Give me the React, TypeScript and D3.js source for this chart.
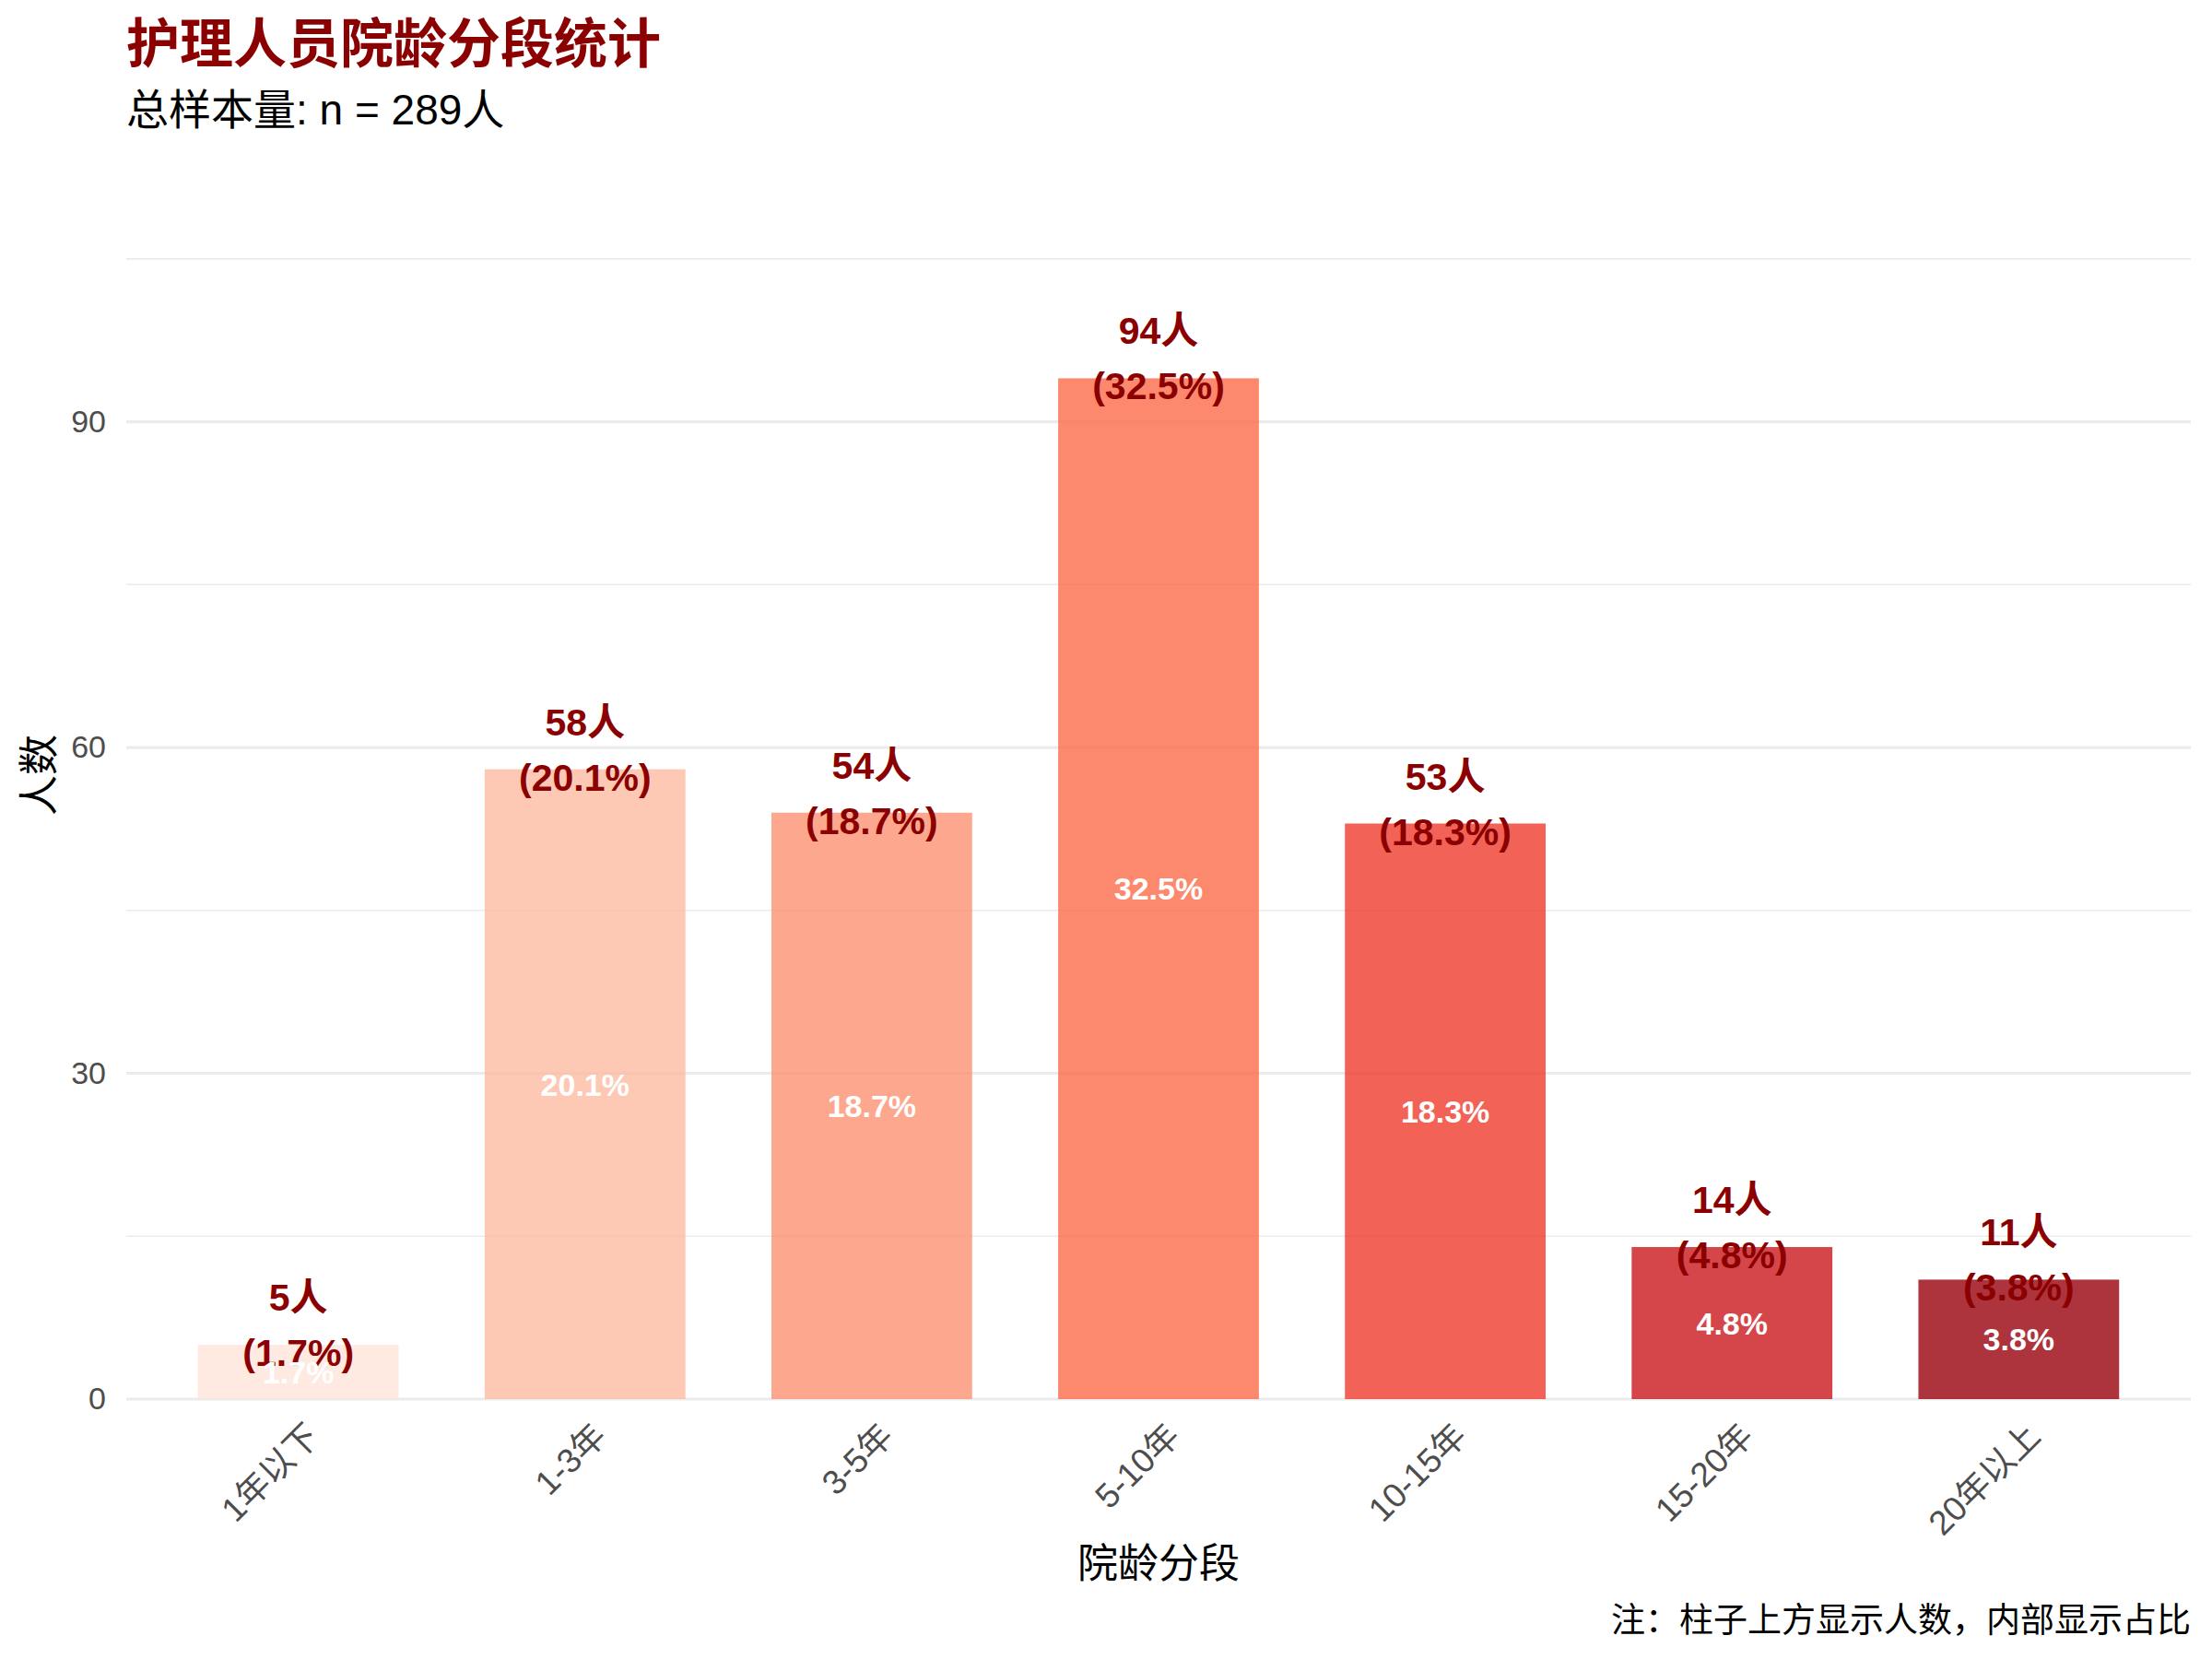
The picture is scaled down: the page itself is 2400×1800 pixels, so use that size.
import React, { useEffect, useRef } from 'react';
import * as d3 from 'd3';

// data
const categories = ['1年以下', '1-3年', '3-5年', '5-10年', '10-15年', '15-20年', '20年以上'];
const counts = [5, 58, 54, 94, 53, 14, 11];
const percents = [1.7, 20.1, 18.7, 32.5, 18.3, 4.8, 3.8];
const barColors = ['#FEE5D9', '#FCBBA1', '#FC9272', '#FB6A4A', '#EF3B2C', '#CB181D', '#99000D'];
const majorTicks = [0, 30, 60, 90];
const minorTicks = [15, 45, 75, 105];
const totalN = 289;

const W = 2400;
const H = 1800;
const margin = { top: 163, right: 23, bottom: 282, left: 137 };
const innerW = W - margin.left - margin.right;
const innerH = H - margin.top - margin.bottom;

const FONT = '"Liberation Sans", Arial, "Noto Sans CJK SC", sans-serif';
const DARK_RED = '#8B0000';

export default function App() {
    const ref = useRef<SVGSVGElement>(null);

    useEffect(() => {
        const svg = d3.select(ref.current);
        svg.selectAll('*').remove();

        const x = d3.scaleBand<string>()
            .domain(categories)
            .range([0, innerW])
            .paddingInner(0.3)
            .paddingOuter(0.25);
        const y = d3.scaleLinear().domain([0, 115]).range([innerH, 0]);

        const rows = categories.map((c, i) => ({ cat: c, n: counts[i], pct: percents[i], color: barColors[i] }));

        svg.append('rect').attr('width', W).attr('height', H).attr('fill', '#fff');

        const g = svg.append('g').attr('transform', `translate(${margin.left},${margin.top})`);

        // grid
        g.append('g')
            .selectAll('line')
            .data(minorTicks)
            .enter()
            .append('line')
            .attr('x1', 0).attr('x2', innerW)
            .attr('y1', d => y(d)).attr('y2', d => y(d))
            .attr('stroke', '#EBEBEB')
            .attr('stroke-width', 1.6);
        g.append('g')
            .selectAll('line')
            .data(majorTicks)
            .enter()
            .append('line')
            .attr('x1', 0).attr('x2', innerW)
            .attr('y1', d => y(d)).attr('y2', d => y(d))
            .attr('stroke', '#EBEBEB')
            .attr('stroke-width', 3.2);

        // bars
        g.append('g')
            .selectAll('rect')
            .data(rows)
            .enter()
            .append('rect')
            .attr('x', d => x(d.cat)!)
            .attr('y', d => y(d.n))
            .attr('width', x.bandwidth())
            .attr('height', d => y(0) - y(d.n))
            .attr('fill', d => d.color)
            .attr('fill-opacity', 0.8);

        const cx = (d: { cat: string }) => x(d.cat)! + x.bandwidth() / 2;

        // labels above bars
        const top = g.append('g')
            .attr('font-family', FONT)
            .attr('font-weight', 'bold')
            .attr('font-size', 41)
            .attr('fill', DARK_RED)
            .attr('text-anchor', 'middle');
        top.selectAll('text.cnt')
            .data(rows)
            .enter()
            .append('text')
            .attr('class', 'cnt')
            .attr('x', cx)
            .attr('y', d => y(d.n) - 37)
            .text(d => `${d.n}人`);
        top.selectAll('text.pct')
            .data(rows)
            .enter()
            .append('text')
            .attr('class', 'pct')
            .attr('x', cx)
            .attr('y', d => y(d.n) + 23)
            .text(d => `(${d.pct.toFixed(1)}%)`);

        // labels inside bars
        g.append('g')
            .selectAll('text')
            .data(rows)
            .enter()
            .append('text')
            .attr('x', cx)
            .attr('y', d => (y(d.n) + y(0)) / 2)
            .attr('dy', '0.36em')
            .attr('text-anchor', 'middle')
            .attr('font-family', FONT)
            .attr('font-weight', 'bold')
            .attr('font-size', 34)
            .attr('fill', '#fff')
            .text(d => `${d.pct.toFixed(1)}%`);

        // y axis
        const yAxis = g.append('g')
            .call(d3.axisLeft(y).tickValues(majorTicks).tickSize(0).tickPadding(22));
        yAxis.select('.domain').remove();
        yAxis.selectAll('text')
            .attr('font-family', FONT)
            .attr('font-size', 34)
            .attr('fill', '#4D4D4D');

        // x axis
        const xAxis = g.append('g')
            .attr('transform', `translate(0,${innerH})`)
            .call(d3.axisBottom(x).tickSize(0));
        xAxis.select('.domain').remove();
        xAxis.selectAll('text')
            .attr('x', 0)
            .attr('y', 0)
            .attr('dy', '0.85em')
            .attr('transform', 'translate(3,20) rotate(-45)')
            .attr('text-anchor', 'end')
            .attr('font-family', FONT)
            .attr('font-size', 37)
            .attr('fill', '#4D4D4D');

        // axis titles
        svg.append('text')
            .attr('transform', `translate(58,841) rotate(-90)`)
            .attr('text-anchor', 'middle')
            .attr('font-family', FONT)
            .attr('font-size', 44)
            .attr('fill', '#000')
            .text('人数');
        svg.append('text')
            .attr('x', margin.left + innerW / 2)
            .attr('y', 1712)
            .attr('text-anchor', 'middle')
            .attr('font-family', FONT)
            .attr('font-size', 44)
            .attr('fill', '#000')
            .text('院龄分段');

        // title, subtitle, caption
        svg.append('text')
            .attr('x', margin.left)
            .attr('y', 68)
            .attr('font-family', FONT)
            .attr('font-weight', 'bold')
            .attr('font-size', 58)
            .attr('fill', DARK_RED)
            .text('护理人员院龄分段统计');
        svg.append('text')
            .attr('x', margin.left)
            .attr('y', 135)
            .attr('font-family', FONT)
            .attr('font-size', 46)
            .attr('fill', '#000')
            .text(`总样本量: n = ${totalN}人`);
        svg.append('text')
            .attr('x', margin.left + innerW)
            .attr('y', 1771)
            .attr('text-anchor', 'end')
            .attr('font-family', FONT)
            .attr('font-size', 37)
            .attr('fill', '#000')
            .text('注：柱子上方显示人数，内部显示占比');
    }, []);

    return (
        <svg
            ref={ref}
            width={W}
            height={H}
            style={{ position: 'absolute', left: 0, top: 0, display: 'block' }}
        />
    );
}
